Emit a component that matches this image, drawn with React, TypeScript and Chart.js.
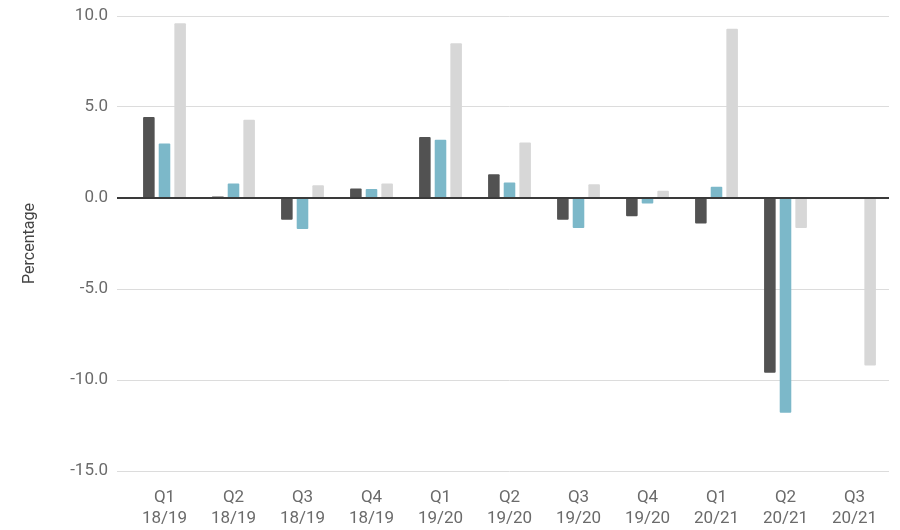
import React, { useEffect, useRef } from "react";
import { Chart, registerables } from "chart.js";

Chart.register(...registerables);

// Quarter labels (two lines each)
const quarters: string[][] = [
  ["Q1", "18/19"],
  ["Q2", "18/19"],
  ["Q3", "18/19"],
  ["Q4", "18/19"],
  ["Q1", "19/20"],
  ["Q2", "19/20"],
  ["Q3", "19/20"],
  ["Q4", "19/20"],
  ["Q1", "20/21"],
  ["Q2", "20/21"],
  ["Q3", "20/21"],
];

// Percentage change per quarter, three series
const seriesDark: (number | null)[] = [4.45, 0.08, -1.2, 0.52, 3.35, 1.3, -1.2, -1.0, -1.4, -9.6, null];
const seriesBlue: (number | null)[] = [3.0, 0.8, -1.7, 0.5, 3.2, 0.85, -1.65, -0.3, 0.62, -11.8, null];
const seriesLight: (number | null)[] = [9.6, 4.3, 0.7, 0.8, 8.5, 3.05, 0.75, 0.4, 9.3, -1.65, -9.2];

// Y axis range and step
const yMin = -15;
const yMax = 10;
const yStep = 5;

export default function App() {
  const canvasRef = useRef<HTMLCanvasElement | null>(null);

  useEffect(() => {
    if (!canvasRef.current) return;
    const font = { family: "Roboto", size: 17 };
    const chart = new Chart(canvasRef.current, {
      type: "bar",
      data: {
        labels: quarters,
        datasets: [
          { label: "A", data: seriesDark, backgroundColor: "#525252" },
          { label: "B", data: seriesBlue, backgroundColor: "#7cb8c9" },
          { label: "C", data: seriesLight, backgroundColor: "#d7d7d7" },
        ],
      },
      options: {
        animation: false,
        responsive: true,
        maintainAspectRatio: false,
        layout: { padding: { top: 16, right: 11, left: 0, bottom: 0 } },
        datasets: {
          bar: { barPercentage: 0.74, categoryPercentage: 0.68, borderRadius: 1 },
        },
        plugins: {
          legend: { display: false },
          tooltip: { enabled: false },
        },
        scales: {
          x: {
            afterFit: (scale: any) => {
              scale.height = 59;
            },
            grid: { display: false, drawTicks: false },
            border: { display: false },
            ticks: {
              color: "#6b6b6b",
              font: { ...font, lineHeight: 1.25 },
              padding: 16,
              maxRotation: 0,
              autoSkip: false,
            },
          },
          y: {
            min: yMin,
            max: yMax,
            afterFit: (scale: any) => {
              scale.width = 130;
              scale.paddingTop = 0;
              scale.paddingBottom = 0;
            },
            border: { display: false },
            grid: {
              color: (ctx: any) => (ctx.tick && ctx.tick.value === 0 ? "#3a3a3a" : "#dcdcdc"),
              lineWidth: (ctx: any) => (ctx.tick && ctx.tick.value === 0 ? 2 : 1),
              tickLength: 13,
            },
            ticks: {
              stepSize: yStep,
              color: "#6b6b6b",
              font,
              padding: 9,
              callback: (v: any) => Number(v).toFixed(1),
            },
            title: {
              display: true,
              text: "Percentage",
              color: "#444",
              font: { family: "Roboto", size: 16 },
              padding: { top: 20, bottom: 0 },
            },
          },
        },
      },
    });
    return () => chart.destroy();
  }, []);

  return (
    <div style={{ position: "fixed", left: 0, top: 0, width: 900, height: 530, background: "#fff" }}>
      <canvas ref={canvasRef} />
    </div>
  );
}
